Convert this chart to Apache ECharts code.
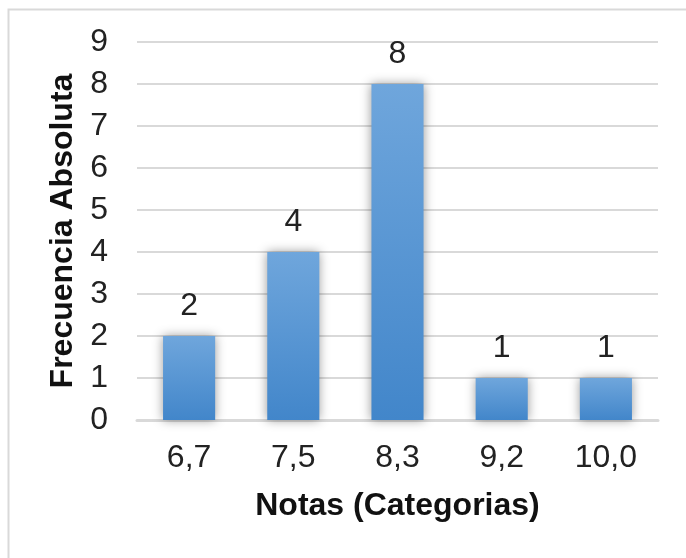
<!DOCTYPE html>
<html>
<head>
<meta charset="utf-8">
<script src="https://cdn.jsdelivr.net/npm/echarts@6/dist/echarts.min.js"></script>
<style>
html,body{margin:0;padding:0;background:#fff;}
#c{width:686px;height:558px;}
</style>
</head>
<body>
<div id="c"></div>
<script>
var categories = ['6,7', '7,5', '8,3', '9,2', '10,0'];
var frequencies = [2, 4, 8, 1, 1];
var yTitle = 'Frecuencia Absoluta';
var xTitle = 'Notas (Categorias)';

var chart = echarts.init(document.getElementById('c'), null, {renderer: 'canvas'});
var font = '"Liberation Sans", Arial, sans-serif';
chart.setOption({
  animation: false,
  backgroundColor: '#fff',
  graphic: [{
    type: 'rect', left: 6, top: 7, z: -10,
    shape: {x: 0, y: 0, width: 720, height: 620},
    style: {fill: null, stroke: '#d9d9d9', lineWidth: 2}
  }],
  grid: {left: 137, right: 28, top: 42, bottom: 138},
  xAxis: {
    type: 'category',
    data: categories,
    name: xTitle,
    nameLocation: 'middle',
    nameGap: 70,
    nameTextStyle: {fontFamily: font, fontSize: 32, fontWeight: 'bold', color: '#111'},
    axisLine: {lineStyle: {color: '#d9d9d9', width: 3}},
    axisTick: {show: false},
    axisLabel: {fontFamily: font, fontSize: 32, color: '#222', margin: 22}
  },
  yAxis: {
    type: 'value',
    min: 0, max: 9, interval: 1,
    name: yTitle,
    nameLocation: 'middle',
    nameGap: 53,
    nameTextStyle: {fontFamily: font, fontSize: 32, fontWeight: 'bold', color: '#111'},
    axisLine: {show: false},
    axisTick: {show: false},
    splitLine: {lineStyle: {color: '#d9d9d9', width: 2}},
    axisLabel: {fontFamily: font, fontSize: 32, color: '#222', margin: 29}
  },
  series: [{
    type: 'bar',
    data: frequencies,
    barWidth: '50%',
    itemStyle: {
      color: new echarts.graphic.LinearGradient(0, 0, 0, 1, [
        {offset: 0, color: '#6fa6dc'},
        {offset: 1, color: '#4286ca'}
      ]),
      shadowBlur: 10,
      shadowColor: 'rgba(0,0,0,0.4)'
    },
    label: {
      show: true, position: 'top', distance: 14,
      fontFamily: font, fontSize: 32, color: '#222'
    }
  }]
});
</script>
</body>
</html>
